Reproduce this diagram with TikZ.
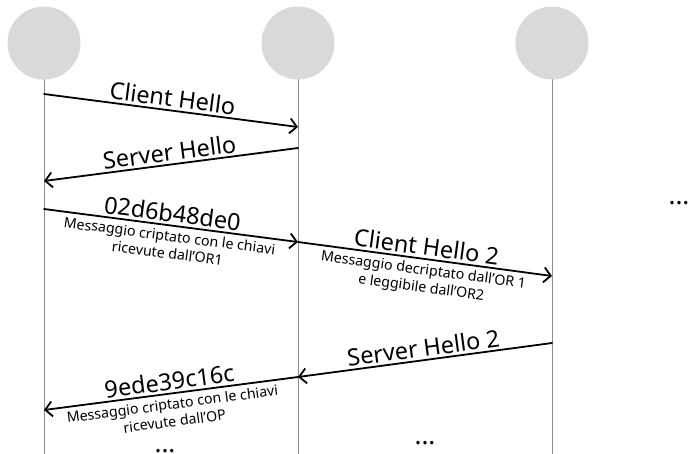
\documentclass[tikz,border=0pt]{standalone}
\usepackage{fontspec}
\setmainfont{Noto Sans}
\usetikzlibrary{arrows.meta}
\begin{document}
\begin{tikzpicture}[x=1pt,y=-1pt,line join=round,line cap=round,>={Straight Barb[length=7pt,width=15pt]}]
\tikzset{actor/.style={circle,fill=black!15,minimum size=73pt,inner sep=0pt},
  life/.style={black!45,line width=1pt},
  msg/.style={->,line width=1.8pt},
  lbl/.style={font=\fontsize{23.5}{26}\selectfont,inner sep=2.5pt},
  note/.style={font=\fontsize{14.2}{17.5}\selectfont,align=center,inner sep=4pt},
  dots/.style={font=\fontsize{26}{28}\selectfont\bfseries,inner sep=0pt}}
\useasboundingbox (0,0) rectangle (690,453);
% nodi del circuito
\node[actor] (op) at (44,43) {};
\node[actor] (orA) at (298,43) {};
\node[actor] (orB) at (552,43) {};
\coordinate (bottom) at (0,460);
\foreach \n in {op,orA,orB}
  \draw[life] (\n.south) -- (\n |- bottom);
% punti dei messaggi
\coordinate (op1) at (op |- 0,94);   \coordinate (a1) at (orA |- 0,127);
\coordinate (a2) at (orA |- 0,148);  \coordinate (op2) at (op |- 0,181);
\coordinate (op3) at (op |- 0,209);  \coordinate (a3) at (orA |- 0,242);
\coordinate (b1) at (orB |- 0,276);  \coordinate (b2) at (orB |- 0,343);
\coordinate (a4) at (orA |- 0,377);  \coordinate (op4) at (op |- 0,410);
% messaggi
\draw[msg] (op1) -- (a1) node[midway,above,sloped,lbl]{Client Hello};
\draw[msg] (a2) -- (op2) node[midway,above,sloped,lbl]{Server Hello};
\draw[msg] (op3) -- (a3) node[midway,above,sloped,lbl]{02d6b48de0}
  node[midway,below,sloped,note]{Messaggio criptato con le chiavi\\ricevute dall'OR1};
\draw[msg] (a3) -- (b1) node[midway,above,sloped,lbl]{Client Hello 2}
  node[midway,below,sloped,note]{Messaggio decriptato dall'OR 1\\e leggibile dall'OR2};
\draw[msg] (b2) -- (a4) node[midway,above,sloped,lbl]{Server Hello 2};
\draw[msg] (a4) -- (op4) node[midway,above,sloped,lbl]{9ede39c16c}
  node[midway,below,sloped,note]{Messaggio criptato con le chiavi\\ricevute dall'OP};
% continua
\node[dots] (moreR) at (679,203) {...};
\node[dots] (moreM) at (425,443) {...};
\node[dots] (moreL) at (165,451) {...};
\end{tikzpicture}
\end{document}
